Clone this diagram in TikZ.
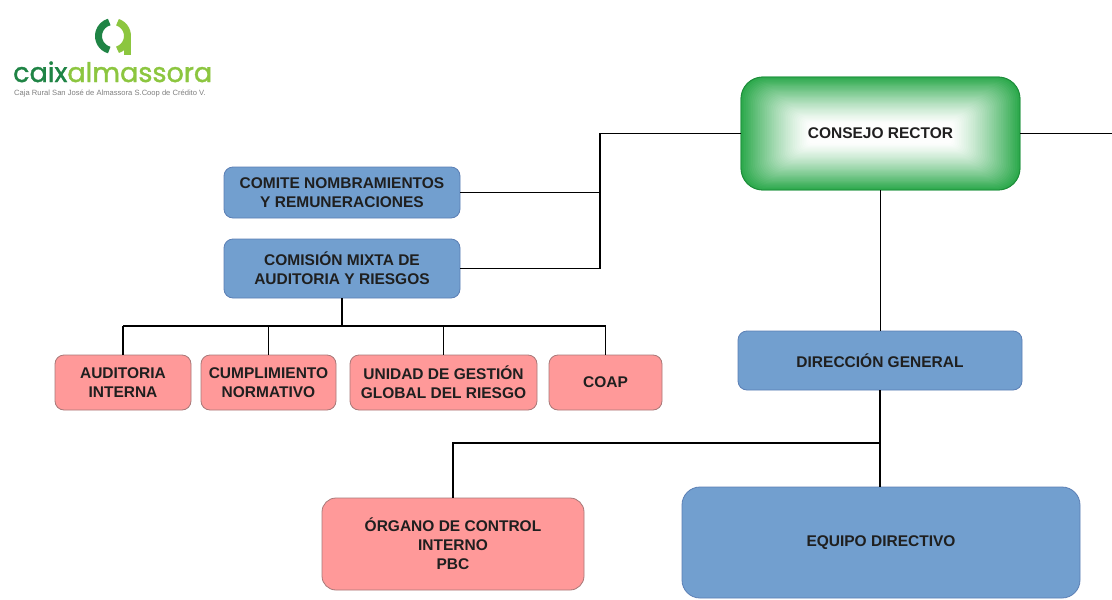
\documentclass[tikz,border=0pt]{standalone}
\usepackage{fontspec}
\setmainfont{Liberation Sans}
\newfontfamily\logofont{Poppins}[FakeBold=1.3]
\usetikzlibrary{calc,backgrounds}
\definecolor{boxblue}{HTML}{729FCF}
\definecolor{blueline}{HTML}{5B7FB5}
\definecolor{boxpink}{HTML}{FF9999}
\definecolor{pinkline}{HTML}{A87878}
\definecolor{crgreen}{HTML}{2AA84A}
\definecolor{crline}{HTML}{1E8A3A}
\definecolor{logodark}{HTML}{1F8445}
\definecolor{logolight}{HTML}{8CC63F}
\begin{document}
\begin{tikzpicture}[x=1pt,y=-1pt,
  org/.style={draw, line width=0.8pt, rounded corners=9pt, align=center,
    font=\bfseries\fontsize{15.5}{19}\selectfont, text=black!88, inner sep=0pt},
  bluebox/.style={org, fill=boxblue, draw=blueline},
  pinkbox/.style={org, fill=boxpink, draw=pinkline},
  link/.style={draw=black, line width=1.3pt}]
\useasboundingbox (0,0) rectangle (1112,600);
\begin{scope}[on background layer]
  \fill[white] (0,0) rectangle (1112,600);
\end{scope}

% logo
\draw[logodark, line width=7pt] (113,36) ++(105:14.5) arc (105:255:14.5);
\draw[logolight, line width=7pt] (113,36) ++(-72:14.5) arc (-72:72:14.5);
\draw[logolight, line width=7pt] (127.5,36) -- (127.5,55);
\node[anchor=base west, inner sep=0pt] (logotext) at (13,82)
  {\logofont\fontsize{27}{27}\selectfont\textcolor{logodark}{caix}\textcolor{logolight}{almassora}};
\node[anchor=base west, inner sep=0pt, text=gray] (tagline) at (14,95.5)
  {\fontsize{7.6}{8}\selectfont Caja Rural San José de Almassora S.Coop de Crédito V.};

% nodes
\node[org, draw=crline, rounded corners=22pt, minimum width=279pt, minimum height=113pt] (cr) at (880.5,133.5) {CONSEJO RECTOR};
\begin{scope}[on background layer]
  \foreach \i in {0,...,39} {
    \pgfmathsetmacro\mix{100*(1-\i/40)^1.3}
    \pgfmathsetmacro\rr{max(22-0.5*\i,3)}
    \pgfmathsetmacro\dx{1.75*\i}
    \pgfmathsetmacro\dy{1.2*\i}
    \fill[crgreen!\mix!white, rounded corners=\rr pt]
      ($(cr.south west)+(\dx pt,\dy pt)$) rectangle ($(cr.north east)+(-\dx pt,-\dy pt)$);
  }
\end{scope}

\node[bluebox, minimum width=236pt, minimum height=51pt] (cnr) at (342,192.5) {COMITE NOMBRAMIENTOS\\Y REMUNERACIONES};
\node[bluebox, minimum width=236pt, minimum height=59pt] (cma) at (342,268.5) {COMISIÓN MIXTA DE\\AUDITORIA Y RIESGOS};

\node[pinkbox, minimum width=136pt, minimum height=55pt] (ai) at (123,382.5) {AUDITORIA\\INTERNA};
\node[pinkbox, minimum width=135pt, minimum height=55pt] (cn) at (268.5,382.5) {CUMPLIMIENTO\\NORMATIVO};
\node[pinkbox, minimum width=187pt, minimum height=55pt] (ug) at (443.5,382.5) {UNIDAD DE GESTIÓN\\GLOBAL DEL RIESGO};
\node[pinkbox, minimum width=113pt, minimum height=55pt] (coap) at (605.5,382.5) {COAP};

\node[bluebox, minimum width=284pt, minimum height=59pt] (dg) at (880,360.5) {DIRECCIÓN GENERAL};
\node[pinkbox, rounded corners=14pt, minimum width=262pt, minimum height=92pt] (oci) at (453,544) {ÓRGANO DE CONTROL\\INTERNO\\PBC};
\node[bluebox, rounded corners=18pt, minimum width=398pt, minimum height=111pt] (ed) at (881,542.5) {EQUIPO DIRECTIVO};

% connectors
\coordinate (bus) at (600,268.5);
\draw[link] (cr.west) -| (bus) -- (cma.east);
\draw[link] (cnr.east) -- (cnr.east -| bus);
\coordinate (edge) at (1112,133.5);
\draw[link] (cr.east) -- (edge);

\coordinate (bar) at (342,326);
\draw[link] (cma.south) -- (bar);
\draw[link] (ai.north |- bar) -- (coap.north |- bar);
\foreach \n in {ai,cn,ug,coap} \draw[link] (\n.north |- bar) -- (\n.north);

\draw[link] (cr.south) -- (cr.south |- dg.north);
\coordinate (j2) at (880,443);
\draw[link] (dg.south) -- (dg.south |- ed.north);
\draw[link] (dg.south |- j2) -| (oci.north);
\end{tikzpicture}
\end{document}
